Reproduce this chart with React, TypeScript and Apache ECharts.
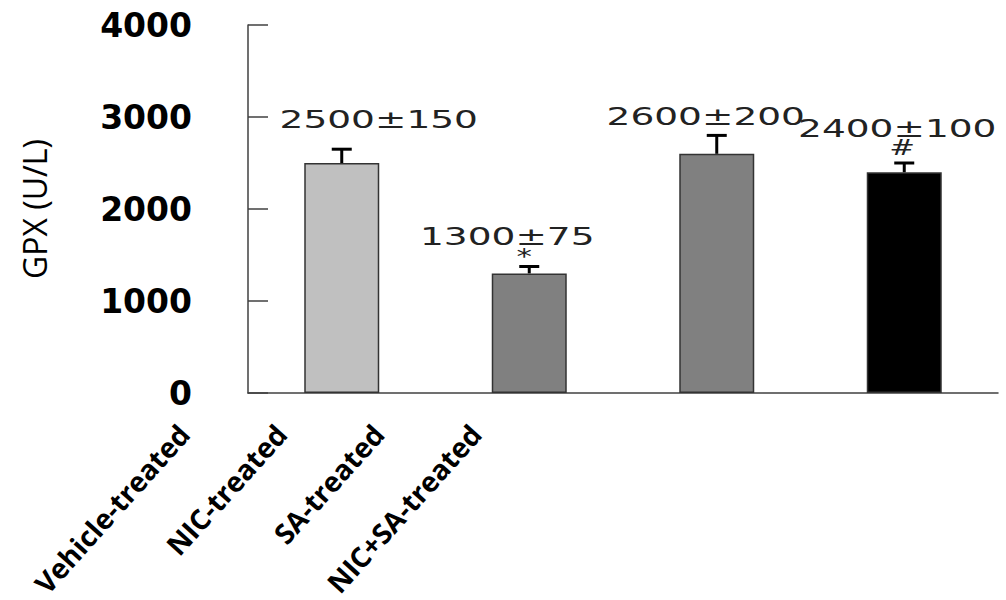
import React, { useEffect, useRef } from "react";
import * as echarts from "echarts";

const categories = ["Vehicle-treated", "NIC-treated", "SA-treated", "NIC+SA-treated"];
const gpxMean = [2500, 1300, 2600, 2400];
const gpxError = [150, 75, 200, 100];
const significance = ["", "*", "", "#"];
const yMin = 0;
const yMax = 4000;
const yInterval = 1000;

// layout-only tweaks for the annotation texts (pixels)
const labelShift = [
  [37, 0],
  [-22, 0],
  [-11, 11],
  [-7, -5],
];
const barColors = ["#c0c0c0", "#808080", "#808080", "#000000"];

export default function App() {
  const ref = useRef<HTMLDivElement>(null);
  useEffect(() => {
    document.body.style.margin = "0";
    const chart = echarts.init(ref.current!, null, { renderer: "svg" });
    const option: any = {
      animation: false,
      backgroundColor: "#ffffff",
      grid: [
        { left: 248, right: 8, top: 25, bottom: 207 },
        { left: 135, width: 389, top: 300, bottom: 171 },
      ],
      xAxis: [
        {
          type: "category",
          gridIndex: 0,
          data: categories,
          axisLine: { lineStyle: { color: "#404040", width: 1.5 } },
          axisTick: { show: false },
          axisLabel: { show: false },
        },
        {
          type: "category",
          gridIndex: 1,
          data: categories,
          axisLine: { show: false },
          axisTick: { show: false },
          axisLabel: {
            rotate: 48,
            margin: 4,
            fontFamily: "Open Sans",
            fontWeight: "bold",
            fontSize: 28,
            color: "#000",
            interval: 0,
          },
        },
      ],
      yAxis: [
        {
          type: "value",
          gridIndex: 0,
          min: yMin,
          max: yMax,
          interval: yInterval,
          name: "GPX (U/L)",
          nameLocation: "middle",
          nameRotate: 90,
          nameGap: 214,
          nameTextStyle: {
            fontFamily: "Open Sans",
            fontSize: 32,
            color: "#000",
            verticalAlign: "middle",
          },
          axisLine: { show: true, lineStyle: { color: "#404040", width: 1.5 } },
          axisTick: { show: true, inside: true, length: 20, lineStyle: { color: "#404040", width: 1.5 } },
          splitLine: { show: false },
          axisLabel: {
            margin: 56,
            fontFamily: "DejaVu Sans",
            fontWeight: "bold",
            fontSize: 33,
            color: "#000",
            formatter: (v: number) => String(v),
          },
        },
        { type: "value", gridIndex: 1, show: false, min: 0, max: 1 },
      ],
      series: [
        {
          type: "bar",
          xAxisIndex: 0,
          yAxisIndex: 0,
          barWidth: 75,
          data: gpxMean.map((v, i) => ({
            value: v,
            itemStyle: { color: barColors[i], borderColor: "#333", borderWidth: 1.5 },
          })),
        },
        {
          type: "custom",
          xAxisIndex: 0,
          yAxisIndex: 0,
          data: gpxMean.map((v, i) => [i, v, gpxError[i]]),
          encode: { x: 0, y: 1 },
          renderItem: (params: any, api: any) => {
            const i = api.value(0);
            const v = api.value(1);
            const e = api.value(2);
            const base = api.coord([i, v]);
            const tip = api.coord([i, v + e]);
            const cx = base[0];
            const [dx, dy] = labelShift[i];
            const children: any[] = [
              {
                type: "line",
                shape: { x1: cx, y1: base[1], x2: cx, y2: tip[1] },
                style: { stroke: "#000", lineWidth: 3 },
              },
              {
                type: "line",
                shape: { x1: cx - 10, y1: tip[1], x2: cx + 10, y2: tip[1] },
                style: { stroke: "#000", lineWidth: 3 },
              },
              {
                type: "text",
                x: cx + dx,
                y: tip[1] - 30 + dy,
                scaleX: 1.5,
                style: {
                  text: `${gpxMean[i]}±${gpxError[i]}`,
                  fontFamily: "DejaVu Sans",
                  fontSize: 25,
                  fill: "#222",
                  align: "center",
                  verticalAlign: "middle",
                },
              },
            ];
            if (significance[i]) {
              children.push({
                type: "text",
                x: cx + (significance[i] === "*" ? -5 : -2),
                y: tip[1] - (significance[i] === "*" ? 10 : 16),
                scaleX: 1.4,
                style: {
                  text: significance[i],
                  fontFamily: "DejaVu Sans",
                  fontSize: 22,
                  fill: "#222",
                  align: "center",
                  verticalAlign: "middle",
                },
              });
            }
            return { type: "group", children };
          },
          z: 5,
        },
      ],
    };
    chart.setOption(option);
    return () => chart.dispose();
  }, []);
  return <div ref={ref} style={{ width: 1006, height: 600 }} />;
}
